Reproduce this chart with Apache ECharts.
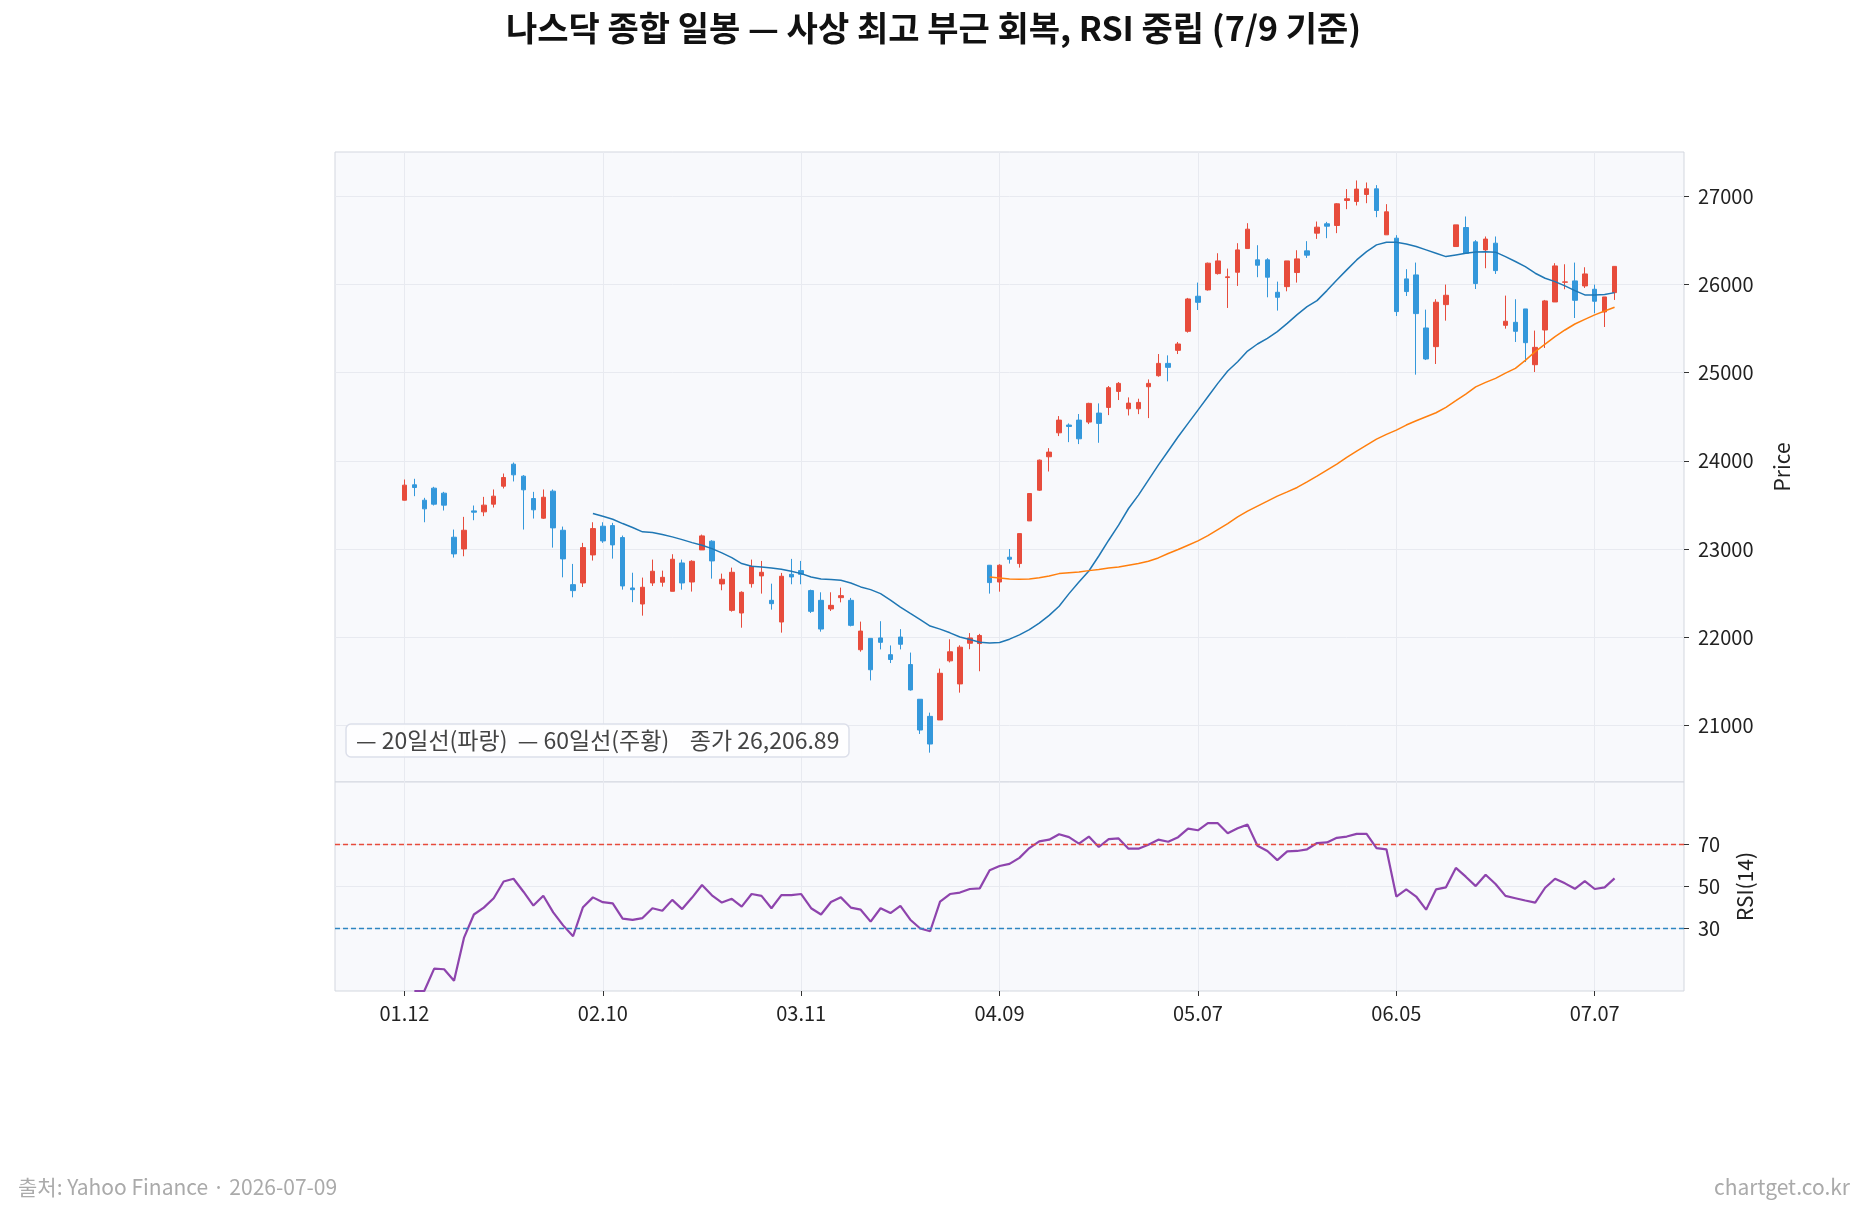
<!DOCTYPE html>
<html>
<head>
<meta charset="utf-8">
<script src="https://cdn.jsdelivr.net/npm/echarts@6/dist/echarts.min.js"></script>
<style>
  html, body { margin: 0; padding: 0; background: #fff; }
  #main { width: 1867px; height: 1213px; }
</style>
</head>
<body>
<div id="main"></div>
<script>
// trading days 2026-01-12 .. 2026-07-09
var dates = [
  "01.12","01.13","01.14","01.15","01.16","01.20","01.21","01.22","01.23","01.26",
  "01.27","01.28","01.29","01.30","02.02","02.03","02.04","02.05","02.06","02.09",
  "02.10","02.11","02.12","02.13","02.17","02.18","02.19","02.20","02.23","02.24",
  "02.25","02.26","02.27","03.02","03.03","03.04","03.05","03.06","03.09","03.10",
  "03.11","03.12","03.13","03.16","03.17","03.18","03.19","03.20","03.23","03.24",
  "03.25","03.26","03.27","03.30","03.31","04.01","04.02","04.06","04.07","04.08",
  "04.09","04.10","04.13","04.14","04.15","04.16","04.17","04.20","04.21","04.22",
  "04.23","04.24","04.27","04.28","04.29","04.30","05.01","05.04","05.05","05.06",
  "05.07","05.08","05.11","05.12","05.13","05.14","05.15","05.18","05.19","05.20",
  "05.21","05.22","05.26","05.27","05.28","05.29","06.01","06.02","06.03","06.04",
  "06.05","06.08","06.09","06.10","06.11","06.12","06.15","06.16","06.17","06.18",
  "06.22","06.23","06.24","06.25","06.26","06.29","06.30","07.01","07.02","07.06",
  "07.07","07.08","07.09"
];

var opens = [
  23553,23728,23553,23690,23633,23133,23000,23432,23421,23508,
  23712,23962,23826,23572,23349,23656,23212,22595,22614,22932,
  23258,23265,23129,22557,22375,22614,22622,22519,22841,22625,
  22989,23088,22603,22303,22273,22606,22694,22417,22171,22712,
  22754,22527,22417,22319,22447,22417,21856,21985,21990,21800,
  22000,21688,21294,21100,21059,21730,21468,21930,21926,22815,
  22625,22906,22834,23318,23667,24046,24318,24406,24462,24440,
  24542,24606,24788,24591,24591,24841,24966,25106,25254,25470,
  25868,25940,26125,26080,26140,26409,26281,26281,25913,25977,
  26137,26383,26584,26690,26671,26955,26944,27023,27087,26565,
  26527,26065,26110,25508,25296,25773,26432,26648,26485,26394,
  26470,25538,25572,25724,25091,25485,25803,26027,26042,25985,
  25947,25690,25909
];
var closes = [
  23724,23697,23455,23508,23497,22944,23212,23417,23497,23599,
  23811,23841,23671,23444,23587,23239,22887,22527,23015,23231,
  23091,23046,22580,22538,22565,22747,22678,22883,22614,22860,
  23148,22864,22656,22735,22508,22803,22735,22379,22690,22682,
  22712,22292,22091,22360,22470,22133,22068,21629,21940,21745,
  21918,21400,20945,20786,21589,21833,21885,21990,22018,22618,
  22815,22883,23174,23629,24008,24099,24462,24390,24250,24652,
  24425,24830,24879,24655,24663,24879,25106,25061,25326,25837,
  25799,26243,26269,26088,26394,26629,26220,26084,25856,26269,
  26292,26334,26652,26663,26917,26974,27084,27087,26841,26826,
  25694,25921,25671,25156,25800,25879,26678,26356,26012,26517,
  26159,25584,25470,25341,25288,25815,26212,26031,25822,26121,
  25811,25860,26206.89
];
var lows = [
  23550,23599,23303,23493,23436,22902,22917,23326,23372,23470,
  23686,23766,23220,23345,23341,23015,22678,22451,22568,22868,
  23069,22890,22538,22396,22243,22580,22572,22519,22538,22516,
  22989,22663,22531,22288,22106,22561,22493,22311,22050,22599,
  22599,22273,22061,22296,22394,22121,21834,21508,21860,21705,
  21860,21392,20900,20688,21059,21712,21369,21862,21612,22493,
  22515,22834,22788,23318,23659,23879,24281,24212,24190,24417,
  24205,24519,24690,24515,24530,24485,24955,24902,25212,25455,
  25712,25932,26114,25735,25985,26409,26084,25856,25705,25924,
  26023,26303,26519,26527,26584,26856,26898,26924,26765,26565,
  25644,25871,24978,25144,25099,25591,26432,26356,25950,26186,
  26121,25500,25349,25121,25008,25281,25803,25947,25621,25962,
  25675,25519,25826
];
var highs = [
  23788,23796,23580,23705,23648,23220,23364,23493,23591,23675,
  23856,23981,23838,23648,23675,23675,23254,22830,23069,23303,
  23303,23296,23152,22730,22675,22879,22754,22940,22879,22872,
  23163,23099,22720,22788,22519,22879,22864,22606,22728,22887,
  22864,22538,22508,22508,22561,22444,22175,21985,22180,21905,
  22090,21824,21294,21142,21642,21975,21907,22045,22036,22815,
  22826,22999,23174,23629,24015,24144,24508,24425,24531,24659,
  24652,24849,24894,24720,24705,24924,25212,25197,25349,25849,
  26023,26250,26356,26182,26470,26697,26447,26300,26034,26269,
  26390,26493,26716,26712,26924,27084,27182,27159,27129,26913,
  26561,26175,26250,25716,25834,26000,26678,26773,26505,26546,
  26546,25875,25834,25724,25478,25826,26243,26231,26250,26197,
  26000,25860,26210
];

// 20-day line, first value on dates[19]
var ma20Start = 19;
var ma20 = [
  23402,23372,23337,23288,23243,23194,23186,23163,23137,23106,
  23072,23042,23004,22955,22902,22834,22803,22796,22785,22769,
  22747,22720,22682,22660,22652,22644,22614,22569,22538,22493,
  22420,22340,22268,22197,22125,22090,22048,22001,21972,21942,
  21932,21938,21976,22025,22084,22159,22246,22349,22493,22625,
  22750,22920,23099,23270,23459,23611,23781,23951,24111,24273,
  24425,24576,24728,24879,25020,25125,25246,25326,25390,25466,
  25560,25660,25750,25818,25932,26053,26167,26280,26375,26451,
  26481,26481,26462,26432,26394,26356,26318,26337,26356,26370,
  26374,26368,26318,26262,26205,26129,26072,26034,25985,25932,
  25883,25883,25887,25909
];

// 60-day line, first value on dates[59]
var ma60Start = 59;
var ma60 = [
  22682,22671,22659,22656,22659,22674,22693,22720,22731,22739,
  22754,22768,22785,22796,22815,22834,22860,22898,22948,22993,
  23042,23091,23152,23220,23288,23364,23429,23486,23542,23599,
  23648,23698,23762,23827,23895,23963,24039,24111,24179,24247,
  24300,24349,24406,24455,24501,24546,24607,24682,24758,24840,
  24890,24936,24995,25050,25140,25239,25325,25409,25485,25553,
  25605,25656,25700,25743
];

// RSI(14), first value on dates[1]
var rsiStart = 1;
var rsi = [
  0,0,10.7,10.4,4.9,25.4,36.6,39.9,44.4,52.4,
  53.7,47.5,40.9,45.6,37.6,31.4,26.2,40.1,44.8,42.5,
  41.9,34.6,34.0,34.9,39.6,38.4,43.6,39.2,44.7,50.7,
  45.8,42.3,44.1,40.4,46.4,45.5,39.6,45.9,45.9,46.4,
  39.6,36.6,42.6,44.8,39.9,38.9,33.2,39.6,37.3,40.7,
  34.1,29.9,28.6,42.8,46.4,47.1,48.8,49.1,57.8,59.8,
  60.8,63.7,68.4,71.6,72.4,75.0,73.6,70.5,73.9,68.9,
  72.7,73.0,68.1,68.1,70.0,72.4,71.4,73.6,77.7,76.9,
  80.3,80.3,75.5,77.9,79.6,69.5,67.0,62.6,66.8,67.0,
  67.8,70.8,71.1,73.3,73.9,75.2,75.2,68.4,67.8,45.2,
  48.6,45.2,38.9,48.6,49.6,58.9,54.7,50.2,55.6,51.2,
  45.5,44.4,43.3,42.3,49.4,53.7,51.5,48.9,52.6,48.8,
  49.6,53.9
];

var priceTicks = [21000, 22000, 23000, 24000, 25000, 26000, 27000];
var rsiTicks = [30, 50, 70];
var rsiHigh = 70;
var rsiLow = 30;

var UP = "#e74c3c";
var DOWN = "#3498db";
var FONT = "'Noto Sans CJK KR', 'Noto Sans', sans-serif";

// empty slots either side, like the plot margins
var pad = 7;
var cats = [];
for (var p = 0; p < pad; p++) cats.push("l" + p);
cats = cats.concat(dates);
for (var q = 0; q < pad; q++) cats.push("r" + q);

function isMonthTick(idx) {
  var k = idx - pad;
  return k >= 0 && k < dates.length && k % 20 === 0;
}

var candleRows = dates.map(function (d, i) {
  return [d, opens[i], closes[i], lows[i], highs[i]];
});
function lineRows(vals, start) {
  return vals.map(function (v, k) { return [dates[start + k], v]; });
}

var lastClose = closes[closes.length - 1].toLocaleString("en-US", {
  minimumFractionDigits: 2, maximumFractionDigits: 2
});

var chart = echarts.init(document.getElementById("main"));

var gridBase = {
  left: 335, right: 183, show: true,
  backgroundColor: "#f8f9fc", borderColor: "#d3d7df", borderWidth: 1
};
var splitStyle = { color: "#e8eaf0", width: 1 };
var TICK_FS = 20;

var option = {
  animation: false,
  backgroundColor: "#ffffff",
  textStyle: { fontFamily: FONT },
  title: [
    {
      text: "나스닥 종합 일봉 — 사상 최고 부근 회복, RSI 중립 (7/9 기준)",
      left: "center", top: 6,
      textStyle: { fontSize: 34, fontWeight: "bold", color: "#111", fontFamily: FONT }
    },
    {
      text: "— 20일선(파랑)  — 60일선(주황)    종가 " + lastClose,
      left: 346, top: 724,
      padding: [5, 10],
      backgroundColor: "rgba(255,255,255,0.85)",
      borderColor: "#dcdfea", borderWidth: 1.5, borderRadius: 5,
      textStyle: { fontSize: 23, fontWeight: "normal", color: "#444", fontFamily: FONT }
    },
    {
      text: "출처: Yahoo Finance · 2026-07-09",
      left: 13, top: 1172,
      textStyle: { fontSize: 21, fontWeight: "normal", color: "#aaaaaa", fontFamily: FONT }
    },
    {
      text: "chartget.co.kr",
      right: 12, top: 1172,
      textStyle: { fontSize: 21, fontWeight: "normal", color: "#aaaaaa", fontFamily: FONT }
    }
  ],
  grid: [
    Object.assign({ top: 152, height: 630 }, gridBase),
    Object.assign({ top: 782, height: 209 }, gridBase)
  ],
  xAxis: [
    {
      type: "category", gridIndex: 0, data: cats, boundaryGap: false,
      axisLine: { show: false }, axisTick: { show: false }, axisLabel: { show: false },
      splitLine: { show: true, interval: isMonthTick, lineStyle: splitStyle }
    },
    {
      type: "category", gridIndex: 1, data: cats, boundaryGap: false,
      axisLine: { show: false },
      axisTick: { show: true, interval: isMonthTick, length: 5, lineStyle: { color: "#333" } },
      axisLabel: { show: true, interval: isMonthTick, margin: 12, fontSize: TICK_FS, color: "#222" },
      splitLine: { show: true, interval: isMonthTick, lineStyle: splitStyle }
    }
  ],
  yAxis: [
    {
      type: "value", gridIndex: 0, position: "right", scale: true,
      min: 20355, max: 27505,
      name: "Price", nameLocation: "middle", nameRotate: 90, nameGap: 88,
      nameTextStyle: { fontSize: 21, color: "#222" },
      axisLine: { show: false },
      axisTick: { show: true, customValues: priceTicks, length: 5, lineStyle: { color: "#333" } },
      axisLabel: {
        customValues: priceTicks, margin: 14, fontSize: TICK_FS, color: "#222",
        formatter: function (v) { return String(v); }
      },
      splitLine: { show: true, lineStyle: splitStyle }
    },
    {
      type: "value", gridIndex: 1, position: "right",
      min: 0, max: 100,
      name: "RSI(14)", nameLocation: "middle", nameRotate: 90, nameGap: 51,
      nameTextStyle: { fontSize: 21, color: "#222" },
      axisLine: { show: false },
      axisTick: { show: true, customValues: rsiTicks, length: 5, lineStyle: { color: "#333" } },
      axisLabel: { customValues: rsiTicks, margin: 14, fontSize: TICK_FS, color: "#222" },
      splitLine: { show: true, lineStyle: splitStyle }
    }
  ],
  series: [
    {
      name: "일봉", type: "candlestick", xAxisIndex: 0, yAxisIndex: 0,
      data: candleRows, encode: { x: 0, y: [1, 2, 3, 4] },
      barWidth: 5,
      itemStyle: { color: UP, color0: DOWN, borderColor: UP, borderColor0: DOWN, borderWidth: 1 }
    },
    {
      name: "20일선", type: "line", xAxisIndex: 0, yAxisIndex: 0,
      data: lineRows(ma20, ma20Start), showSymbol: false,
      lineStyle: { color: "#1f77b4", width: 1.5 }, z: 3
    },
    {
      name: "60일선", type: "line", xAxisIndex: 0, yAxisIndex: 0,
      data: lineRows(ma60, ma60Start), showSymbol: false,
      lineStyle: { color: "#ff7f0e", width: 1.5 }, z: 3
    },
    {
      name: "RSI", type: "line", xAxisIndex: 1, yAxisIndex: 1,
      data: lineRows(rsi, rsiStart), showSymbol: false,
      lineStyle: { color: "#8e44ad", width: 2.2 },
      markLine: {
        silent: true, symbol: "none", label: { show: false },
        data: [
          { yAxis: rsiHigh, lineStyle: { color: "#e74c3c", type: [5, 3], width: 1.3 } },
          { yAxis: rsiLow, lineStyle: { color: "#2e86c1", type: [5, 3], width: 1.3 } }
        ]
      }
    }
  ]
};

option && chart.setOption(option);
</script>
</body>
</html>
